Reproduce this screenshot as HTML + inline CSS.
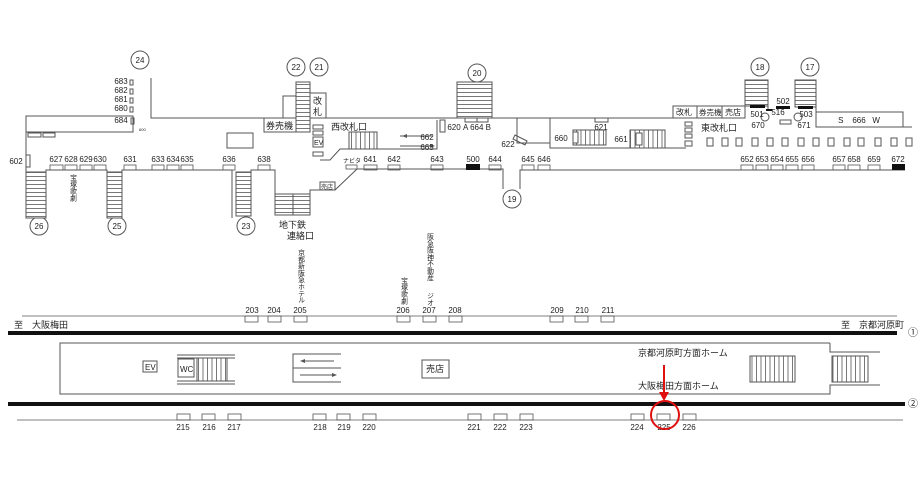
<!DOCTYPE html>
<html><head><meta charset="utf-8"><style>
html,body{margin:0;padding:0;background:#fff}
svg{display:block}
text{font-family:"Liberation Sans","Noto Sans CJK JP",sans-serif;fill:#222}
.n{font-size:8px;text-anchor:middle}
.j{font-size:9px}
.v{font-size:6.8px;writing-mode:vertical-rl;glyph-orientation-vertical:0}
</style></head><body>
<svg width="919" height="491" viewBox="0 0 919 491" xmlns="http://www.w3.org/2000/svg">
<defs>
<pattern id="hs" width="10" height="4" patternUnits="userSpaceOnUse"><rect width="10" height="4" fill="#fff"/><line x1="0" y1="0.5" x2="10" y2="0.5" stroke="#555" stroke-width="0.8"/></pattern>
<pattern id="vs" width="4.5" height="10" patternUnits="userSpaceOnUse"><rect width="4.5" height="10" fill="#fff"/><line x1="0.5" y1="0" x2="0.5" y2="10" stroke="#555" stroke-width="0.8"/></pattern>
</defs>
<g fill="none" stroke="#555" stroke-width="1">
<circle cx="140" cy="60" r="9"/><circle cx="296" cy="67" r="9"/><circle cx="319" cy="67" r="9"/>
<circle cx="477" cy="73" r="9"/><circle cx="760" cy="67" r="9"/><circle cx="810" cy="67" r="9"/>
<circle cx="39" cy="226" r="9"/><circle cx="117" cy="226" r="9"/><circle cx="246" cy="226" r="9"/><circle cx="512" cy="199" r="9"/>
<polyline points="151,78 151,118 264,118"/>
<rect x="264" y="118" width="32" height="14"/>
<rect x="283" y="96" width="13" height="22"/>
<rect x="296" y="82" width="14" height="50" fill="url(#hs)"/>
<rect x="310" y="93" width="16" height="25"/>
<line x1="326" y1="118" x2="457" y2="118"/>
<rect x="457" y="82" width="35" height="36" fill="url(#hs)"/>
<line x1="492" y1="118" x2="673" y2="118"/>
<polyline points="517,118 517,143 550,143"/>
<polyline points="550,118 550,148 686,148"/>
<rect x="673" y="106" width="72" height="12"/><line x1="697" y1="106" x2="697" y2="118"/><line x1="722" y1="106" x2="722" y2="118"/>
<rect x="745" y="80" width="23" height="26" fill="url(#hs)"/>
<line x1="745" y1="106" x2="745" y2="118"/><line x1="768" y1="106" x2="768" y2="110"/>
<rect x="795" y="80" width="21" height="27" fill="url(#hs)"/>
<polyline points="816,107 816,127 903,127 903,112 816,112"/>
<line x1="903" y1="127" x2="912" y2="127"/>
<circle cx="765" cy="117" r="4"/><circle cx="798" cy="117" r="4"/>
<rect x="780" y="120" width="11" height="4"/>
<rect x="685" y="122" width="7" height="4"/><rect x="685" y="128" width="7" height="4"/><rect x="685" y="134" width="7" height="4"/><rect x="685" y="141" width="7" height="5"/>
<rect x="707" y="138" width="6" height="8"/><rect x="722" y="138" width="6" height="8"/><rect x="736" y="138" width="6" height="8"/><rect x="752" y="138" width="6" height="8"/><rect x="767" y="138" width="6" height="8"/><rect x="782" y="138" width="6" height="8"/><rect x="798" y="138" width="6" height="8"/><rect x="813" y="138" width="6" height="8"/><rect x="828" y="138" width="6" height="8"/><rect x="844" y="138" width="6" height="8"/><rect x="858" y="138" width="6" height="8"/><rect x="875" y="138" width="6" height="8"/><rect x="891" y="138" width="6" height="8"/><rect x="906" y="138" width="6" height="8"/>
<rect x="573" y="130" width="33" height="15" fill="url(#vs)"/><rect x="573" y="132" width="5" height="11" fill="#fff"/>
<rect x="630" y="130" width="35" height="18" fill="url(#vs)"/><rect x="636" y="133" width="6" height="12" fill="#fff"/>
<rect x="595" y="118" width="13" height="4"/>
<rect x="465" y="118" width="12" height="4"/><rect x="477" y="118" width="11" height="4"/>
<rect x="440" y="120" width="5" height="12"/>
<polygon points="515,135 527,141 525,145 513,139"/>
<polyline points="437,120 437,149 340,149 330,160 320,160"/>
<rect x="349" y="132" width="28" height="17" fill="url(#vs)"/>
<line x1="400" y1="136" x2="432" y2="136"/><line x1="400" y1="146" x2="432" y2="146"/>
<rect x="313" y="125" width="10" height="4"/><rect x="313" y="131" width="10" height="4"/>
<rect x="313" y="137" width="10" height="10"/><rect x="313" y="152" width="10" height="4"/>
<rect x="26" y="116" width="107" height="16"/>
<rect x="28" y="133" width="13" height="4"/><rect x="43" y="133" width="12" height="4"/>
<rect x="130" y="80" width="3" height="5"/><rect x="130" y="89" width="3" height="5"/><rect x="130" y="98" width="3" height="5"/><rect x="130" y="107" width="3" height="5"/><rect x="131" y="118" width="3" height="6"/>
<rect x="227" y="133" width="26" height="15"/>
<rect x="26" y="155" width="4" height="12"/>
<line x1="26" y1="132" x2="26" y2="218"/>
<rect x="26" y="172" width="20" height="46" fill="url(#hs)"/>
<polyline points="46,218 46,170 107,170 107,218"/>
<rect x="107" y="172" width="15" height="46" fill="url(#hs)"/>
<polyline points="122,218 122,170 232,170 232,218"/>
<rect x="236" y="172" width="15" height="44" fill="url(#hs)"/>
<polyline points="251,216 251,170 275,170 275,194"/>
<rect x="275" y="194" width="35" height="21" fill="url(#hs)"/><line x1="293" y1="194" x2="293" y2="215"/>
<polyline points="310,215 310,190 320,190"/>
<rect x="320" y="182" width="15" height="8"/>
<polyline points="335,190 357,169 503,169 503,189"/>
<polyline points="520,189 520,170 905,170"/>
<line x1="22" y1="316" x2="897" y2="316" stroke-width="0.8"/>
<polyline points="830,343 60,343 60,394 830,394 830,385 880,385"/>
<polyline points="830,343 830,352 880,352"/>
<rect x="750" y="356" width="45" height="26" fill="url(#vs)"/>
<rect x="832" y="356" width="36" height="26" fill="url(#vs)"/>
<rect x="143" y="361" width="14" height="11"/>
<line x1="177" y1="355" x2="235" y2="355"/><line x1="177" y1="358" x2="235" y2="358"/>
<line x1="177" y1="381" x2="235" y2="381"/><line x1="177" y1="384" x2="235" y2="384"/>
<rect x="197" y="358" width="30" height="23" fill="url(#vs)"/>
<rect x="178" y="359" width="16" height="18"/>
<polyline points="341,354 293,354 293,382 341,382"/><line x1="293" y1="368" x2="341" y2="368"/>
<line x1="302" y1="361" x2="334" y2="361"/><line x1="300" y1="375" x2="334" y2="375"/>
<rect x="422" y="360" width="27" height="18"/>
<line x1="17" y1="420" x2="903" y2="420" stroke-width="0.8"/>
</g>
<g fill="#555">
<polygon points="402,136 407,134 407,138"/><polygon points="435,146 430,144 430,148"/>
<polygon points="300,361 305,359 305,363"/><polygon points="337,375 332,373 332,377"/>
</g>
<g fill="#111">
<rect x="750" y="105" width="15" height="3"/><rect x="766" y="109" width="6" height="2"/><rect x="776" y="106" width="14" height="3"/><rect x="798" y="106" width="15" height="3"/>
<rect x="466" y="164" width="14" height="6"/><rect x="892" y="164" width="13" height="6"/>
<rect x="8" y="331" width="889" height="4"/><rect x="8" y="402" width="897" height="4"/>
</g>
<g fill="none" stroke="#555" stroke-width="0.8">
<rect x="50" y="165" width="13" height="5"/><rect x="65" y="165" width="12" height="5"/><rect x="80" y="165" width="12" height="5"/><rect x="94" y="165" width="12" height="5"/><rect x="124" y="165" width="12" height="5"/><rect x="152" y="165" width="12" height="5"/><rect x="167" y="165" width="12" height="5"/><rect x="181" y="165" width="12" height="5"/><rect x="223" y="165" width="12" height="5"/><rect x="258" y="165" width="12" height="5"/>
<rect x="346" y="165" width="11" height="4"/><rect x="364" y="165" width="13" height="5"/><rect x="388" y="165" width="12" height="5"/><rect x="431" y="165" width="12" height="5"/><rect x="489" y="165" width="12" height="5"/><rect x="522" y="165" width="12" height="5"/><rect x="538" y="165" width="12" height="5"/>
<rect x="741" y="165" width="12" height="5"/><rect x="756" y="165" width="12" height="5"/><rect x="771" y="165" width="12" height="5"/><rect x="786" y="165" width="12" height="5"/><rect x="802" y="165" width="12" height="5"/><rect x="833" y="165" width="12" height="5"/><rect x="848" y="165" width="12" height="5"/><rect x="868" y="165" width="12" height="5"/>
<rect x="245" y="316" width="13" height="6"/><rect x="268" y="316" width="13" height="6"/><rect x="294" y="316" width="13" height="6"/><rect x="397" y="316" width="13" height="6"/><rect x="423" y="316" width="13" height="6"/><rect x="449" y="316" width="13" height="6"/><rect x="550" y="316" width="13" height="6"/><rect x="575" y="316" width="13" height="6"/><rect x="601" y="316" width="13" height="6"/>
<rect x="177" y="414" width="13" height="6"/><rect x="202" y="414" width="13" height="6"/><rect x="228" y="414" width="13" height="6"/><rect x="313" y="414" width="13" height="6"/><rect x="337" y="414" width="13" height="6"/><rect x="363" y="414" width="13" height="6"/><rect x="468" y="414" width="13" height="6"/><rect x="494" y="414" width="13" height="6"/><rect x="520" y="414" width="13" height="6"/><rect x="631" y="414" width="13" height="6"/><rect x="657" y="414" width="13" height="6"/><rect x="683" y="414" width="13" height="6"/>
</g>
<g class="n">
<text x="140" y="63">24</text><text x="296" y="70">22</text><text x="319" y="70">21</text><text x="477" y="76">20</text><text x="760" y="70">18</text><text x="810" y="70">17</text>
<text x="39" y="229">26</text><text x="117" y="229">25</text><text x="246" y="229">23</text><text x="512" y="202">19</text>
<text x="121" y="84">683</text><text x="121" y="93">682</text><text x="121" y="102">681</text><text x="121" y="111">680</text><text x="121" y="123">684</text>
<text x="16" y="164">602</text>
<text x="56" y="162">627</text><text x="71" y="162">628</text><text x="86" y="162">629</text><text x="100" y="162">630</text><text x="130" y="162">631</text><text x="158" y="162">633</text><text x="173" y="162">634</text><text x="187" y="162">635</text><text x="229" y="162">636</text><text x="264" y="162">638</text>
<text x="370" y="162">641</text><text x="394" y="162">642</text><text x="437" y="162">643</text><text x="473" y="162">500</text><text x="495" y="162">644</text><text x="528" y="162">645</text><text x="544" y="162">646</text>
<text x="747" y="162">652</text><text x="762" y="162">653</text><text x="777" y="162">654</text><text x="792" y="162">655</text><text x="808" y="162">656</text><text x="839" y="162">657</text><text x="854" y="162">658</text><text x="874" y="162">659</text><text x="898" y="162">672</text>
<text x="427" y="140">662</text><text x="427" y="150">663</text><text x="454" y="130">620</text><text x="477" y="130">A 664 B</text><text x="601" y="130">621</text><text x="508" y="147">622</text><text x="561" y="141">660</text><text x="621" y="142">661</text>
<text x="757" y="117">501</text><text x="778" y="115">516</text><text x="783" y="104">502</text><text x="806" y="117">503</text><text x="758" y="128">670</text><text x="804" y="128">671</text>
<text x="859" y="123">S&#160;&#160;&#160;&#160;666&#160;&#160;&#160;W</text>
<text x="252" y="313">203</text><text x="274" y="313">204</text><text x="300" y="313">205</text><text x="403" y="313">206</text><text x="429" y="313">207</text><text x="455" y="313">208</text><text x="557" y="313">209</text><text x="582" y="313">210</text><text x="608" y="313">211</text>
<text x="183" y="430">215</text><text x="209" y="430">216</text><text x="234" y="430">217</text><text x="320" y="430">218</text><text x="344" y="430">219</text><text x="369" y="430">220</text><text x="474" y="430">221</text><text x="500" y="430">222</text><text x="526" y="430">223</text><text x="637" y="430">224</text><text x="664" y="430">225</text><text x="689" y="430">226</text>
<text x="913" y="336" style="font-size:10px">①</text><text x="913" y="407" style="font-size:10px">②</text>
</g>
<text x="139" y="131" style="font-size:4px">600</text>
<g class="j">
<text x="266" y="129">券売機</text><text x="313" y="104">改</text><text x="313" y="115">札</text>
<text x="331" y="130">西改札口</text><text x="314" y="145" style="font-size:7px">EV</text>
<text x="676" y="115" style="font-size:8px">改札</text><text x="699" y="115" style="font-size:7.5px">券売機</text><text x="725" y="115" style="font-size:8px">売店</text>
<text x="701" y="131">東改札口</text>
<text x="343" y="163" style="font-size:6px">ナビタ</text>
<text x="321" y="189" style="font-size:6px">売店</text>
<text x="279" y="228">地下鉄</text><text x="287" y="239">連絡口</text>
<text x="14" y="328">至　大阪梅田</text>
<text x="841" y="328">至　京都河原町</text>
<text x="145" y="370" style="font-size:8px">EV</text>
<text x="180" y="372" style="font-size:8px">WC</text>
<text x="426" y="372">売店</text>
<text x="638" y="356">京都河原町方面ホーム</text>
<text x="638" y="389">大阪梅田方面ホーム</text>
</g>
<text class="v" x="72" y="174">宝塚歌劇</text>
<text class="v" x="300" y="249">京都新阪急ホテル</text>
<text class="v" x="403" y="277">宝塚歌劇</text>
<text class="v" x="429" y="233">阪急阪神不動産</text>
<text class="v" x="429" y="292">ジオ</text>
<g stroke="#e01010" stroke-width="2" fill="none">
<line x1="664" y1="365" x2="664" y2="394"/>
<circle cx="665" cy="415" r="14"/>
</g>
<polygon points="659,392 669,392 664,401" fill="#e01010"/>
</svg>
</body></html>
